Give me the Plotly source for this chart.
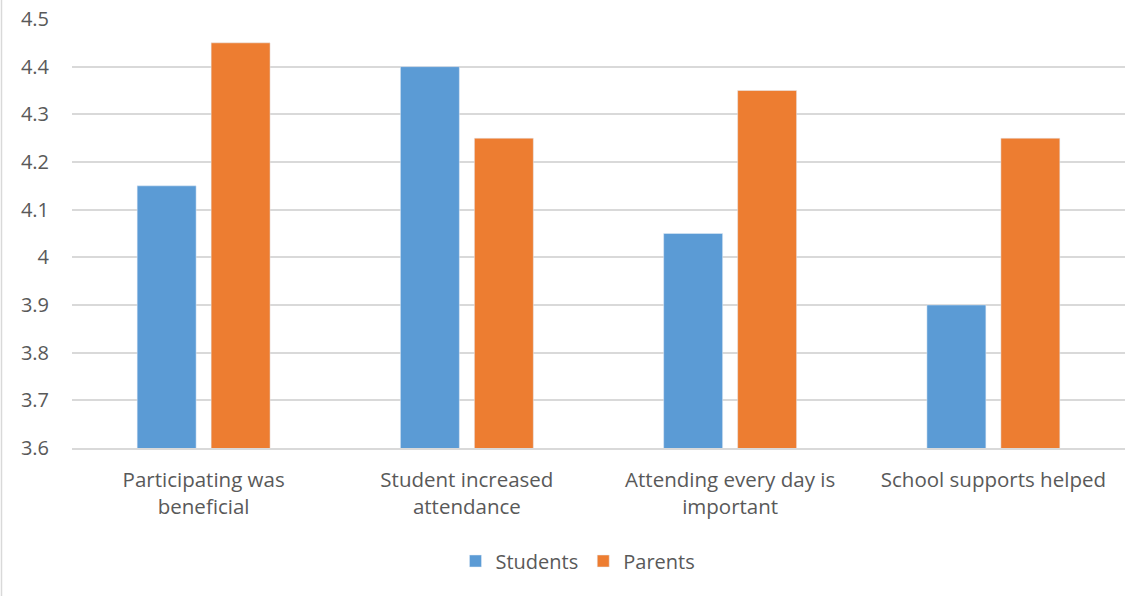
import plotly.graph_objects as go

categories = ["Participating was<br>beneficial", "Student increased<br>attendance",
              "Attending every day is<br>important", "School supports helped"]
students = [4.15, 4.40, 4.05, 3.90]
parents = [4.45, 4.25, 4.35, 4.25]
tick_vals = [3.6, 3.7, 3.8, 3.9, 4.0, 4.1, 4.2, 4.3, 4.4, 4.5]
tick_text = ["3.6", "3.7", "3.8", "3.9", "4", "4.1", "4.2", "4.3", "4.4", "4.5"]

W, H = 1140, 596
ml, mr, mt, mb = 72, 15, 19, 148
pw, ph = W - ml - mr, H - mt - mb

fig = go.Figure()
fig.add_trace(go.Bar(name="Students", x=categories, y=students, marker_color="#5B9BD5"))
fig.add_trace(go.Bar(name="Parents", x=categories, y=parents, marker_color="#ED7D31"))

fig.update_layout(
    width=W, height=H,
    margin=dict(l=ml, r=mr, t=mt, b=mb, autoexpand=False),
    barmode="group", bargap=0.438, bargroupgap=0.203,
    plot_bgcolor="white", paper_bgcolor="white",
    font=dict(family="Open Sans", color="#595959", size=20),
    legend=dict(orientation="h", xref="container", yref="container",
                x=0.507, xanchor="center", y=1 - 561 / H, yanchor="middle",
                font=dict(size=20), traceorder="normal", itemwidth=30),
    showlegend=True,
)
fig.update_yaxes(range=[3.6, 4.5], tickvals=tick_vals, ticktext=tick_text,
                 showgrid=True, gridcolor="#D9D9D9", gridwidth=1.5, zeroline=False,
                 ticklabelstandoff=22, tickfont=dict(size=20), automargin=False)
fig.update_xaxes(showline=True, linecolor="#D9D9D9", linewidth=1.5,
                 tickfont=dict(size=20.5), ticklabelstandoff=13, automargin=False)

fig.add_shape(type="line", xref="paper", yref="paper",
              x0=(1.5 - ml) / pw, x1=(1.5 - ml) / pw,
              y0=-mb / ph, y1=1 + mt / ph,
              line=dict(color="#D9D9D9", width=1.5))

fig.write_html("out.html")
